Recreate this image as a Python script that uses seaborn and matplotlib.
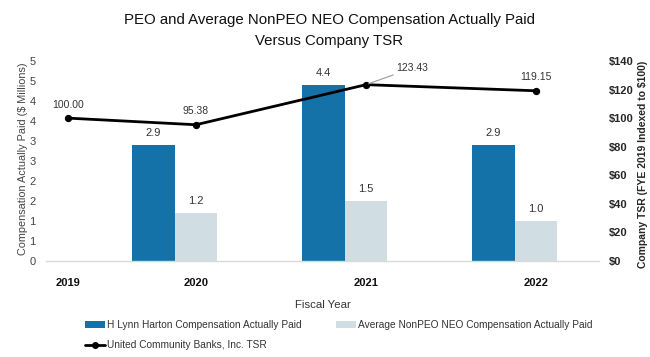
import matplotlib
matplotlib.use("Agg")
import matplotlib.pyplot as plt
import matplotlib.ticker as mticker
from matplotlib.patches import Patch
from matplotlib.lines import Line2D
import seaborn as sns
import pandas as pd

# ---- data ----
bar_years = ["2020", "2021", "2022"]
peo_cap = [2.9, 4.4, 2.9]
neo_cap = [1.2, 1.5, 1.0]
tsr_years = ["2019", "2020", "2021", "2022"]
tsr_values = [100.00, 95.38, 123.43, 119.15]
peo_name = "H Lynn Harton Compensation Actually Paid"
neo_name = "Average NonPEO NEO Compensation Actually Paid"
tsr_name = "United Community Banks, Inc. TSR"

# ---- layout (category centre positions on the x axis) ----
x_position = {"2019": -0.75, "2020": 0.0, "2021": 1.0, "2022": 2.0}

DARK = "#1472A9"
LIGHT = "#D0DDE2"

sns.set_theme(style="white")
plt.rcParams["font.family"] = ["Liberation Sans", "DejaVu Sans"]

fig = plt.figure(figsize=(6.5, 3.57), dpi=100)
ax = fig.add_axes([46 / 650, 1 - 261 / 357, (599 - 46) / 650, 200 / 357])

bars = pd.DataFrame({
    "year": bar_years * 2,
    "value": peo_cap + neo_cap,
    "series": [peo_name] * 3 + [neo_name] * 3,
})
sns.barplot(data=bars, x="year", y="value", hue="series", order=bar_years,
            hue_order=[peo_name, neo_name, "spacer"],
            palette={peo_name: DARK, neo_name: LIGHT, "spacer": "white"},
            width=0.75, dodge=True, saturation=1, legend=False, ax=ax,
            edgecolor="none", errorbar=None)

for cont in ax.containers[:2]:
    ax.bar_label(cont, fmt="%.1f", padding=5, fontsize=8, color="#333333")

ax.set_ylim(0, 5)
ax.set_xlim(-0.882, 2.37)
ax.yaxis.set_major_locator(mticker.MultipleLocator(0.5))
ax.yaxis.set_major_formatter(mticker.FuncFormatter(lambda v, p: str(int(v + 0.5))))
ax.tick_params(axis="y", labelsize=8, labelcolor="#444444", length=0, pad=7.5)
ax.set_xticks([x_position[y] for y in tsr_years])
ax.set_xticklabels(tsr_years, fontsize=8, fontweight="bold", color="#111111")
ax.tick_params(axis="x", length=0, pad=12)
for s in ["top", "right", "left"]:
    ax.spines[s].set_visible(False)
ax.spines["bottom"].set_color("#D9D9D9")
ax.spines["bottom"].set_linewidth(1)
ax.set_xlabel("Fiscal Year", fontsize=8.2, color="#333333", labelpad=9)
ax.set_ylabel("Compensation Actually Paid ($ Millions)", fontsize=7.8,
              color="#444444", va="center")
ax.yaxis.set_label_coords(-0.042, 0.51)

ax2 = ax.twinx()
line_df = pd.DataFrame({"x": [x_position[y] for y in tsr_years], "tsr": tsr_values})
sns.lineplot(data=line_df, x="x", y="tsr", ax=ax2, color="black", linewidth=2.0,
             marker="o", markersize=4.5, markeredgecolor="black")
ax2.set_ylim(0, 140)
ax2.yaxis.set_major_locator(mticker.MultipleLocator(20))
ax2.yaxis.set_major_formatter(mticker.FuncFormatter(lambda v, p: f"${int(v)}"))
ax2.tick_params(axis="y", labelsize=8, length=0, pad=7)
for lab in ax2.get_yticklabels():
    lab.set_fontweight("bold")
for s in ["top", "right", "left", "bottom"]:
    ax2.spines[s].set_visible(False)
ax2.set_ylabel("Company TSR (FYE 2019 Indexed to $100)", fontsize=7.5,
               fontweight="bold", va="center")
ax2.yaxis.set_label_coords((643 - 46) / 553, 0.485)
ax2.set_xlabel("")
ax2.set_xlim(ax.get_xlim())

for yr, v in zip(tsr_years, tsr_values):
    xp = x_position[yr]
    if yr == "2021":
        ax2.annotate(f"{v:.2f}", xy=(xp, v), xytext=(22, 12),
                     textcoords="offset points", fontsize=7.5, color="#333333",
                     ha="left", va="center",
                     arrowprops=dict(arrowstyle="-", color="#999999", lw=0.8,
                                     shrinkA=0, shrinkB=2))
    else:
        ax2.annotate(f"{v:.2f}", xy=(xp, v), xytext=(0, 6),
                     textcoords="offset points", fontsize=7.5, color="#333333",
                     ha="center", va="bottom")

fig.suptitle("PEO and Average NonPEO NEO Compensation Actually Paid\nVersus Company TSR",
             x=329 / 650, y=1 - 13 / 357, fontsize=10.8, color="#111111",
             linespacing=1.6, va="top")

handles = [Patch(facecolor=DARK, edgecolor="none"),
           Line2D([0], [0], color="black", lw=2, marker="o", markersize=4),
           Patch(facecolor=LIGHT, edgecolor="none")]
labels = [peo_name, tsr_name, neo_name]
fig.legend(handles, labels, ncol=2, loc="upper left",
           bbox_to_anchor=(76 / 650, 1 - 311 / 357), frameon=False,
           fontsize=7.3, handlelength=2.0, handletextpad=0.2, columnspacing=3.3,
           labelspacing=1.0, labelcolor="#333333")

fig.savefig("out.png", dpi=100)
